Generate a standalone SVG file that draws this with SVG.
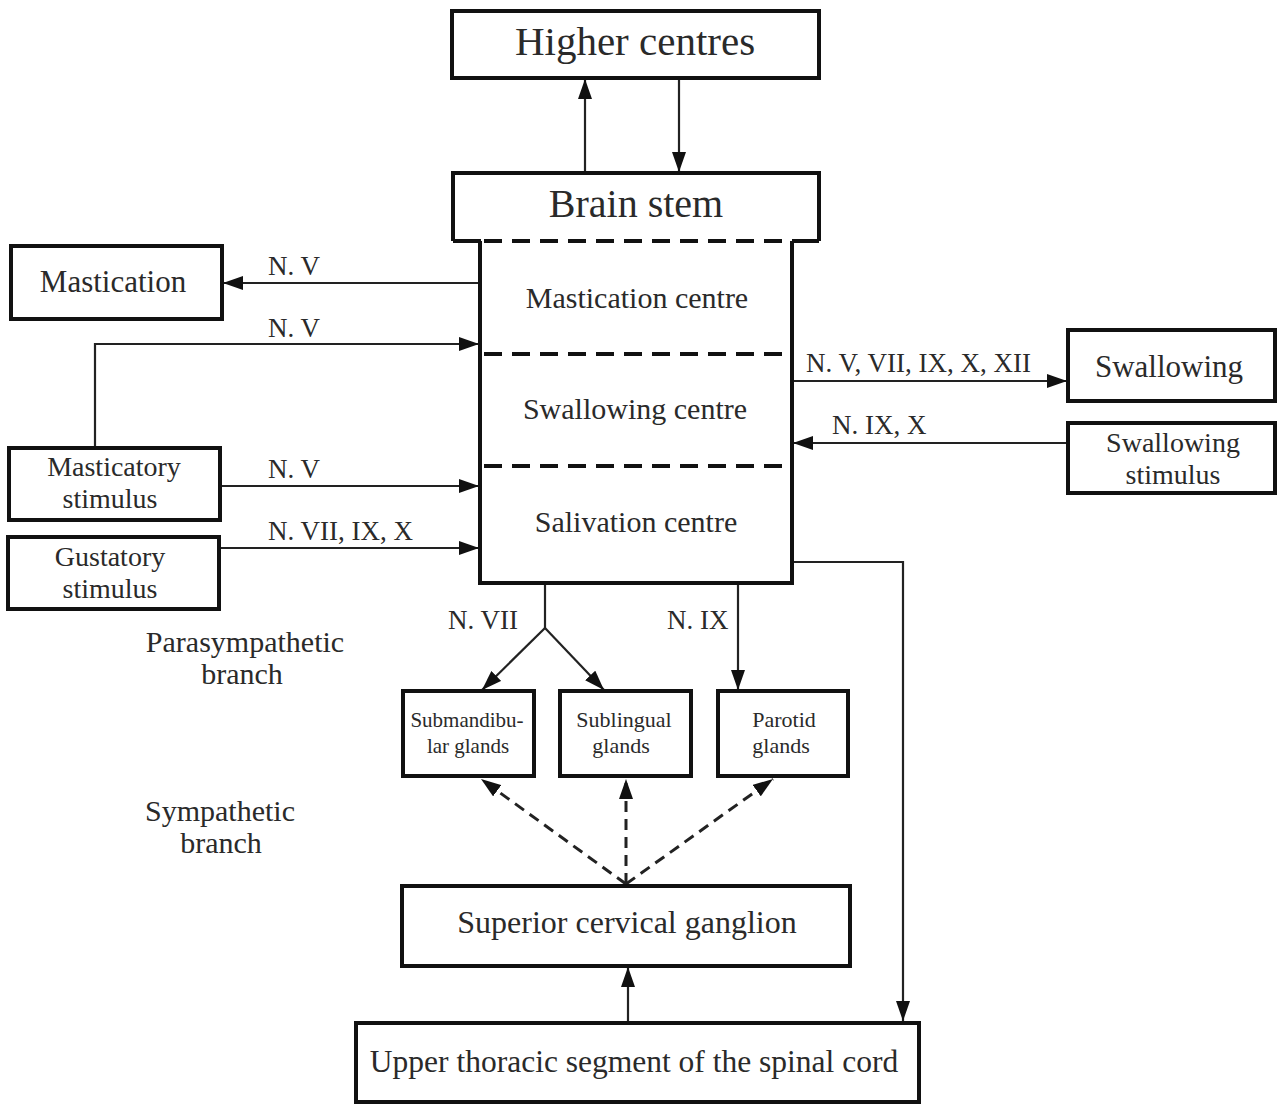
<svg xmlns="http://www.w3.org/2000/svg" width="1277" height="1104" viewBox="0 0 1277 1104">
<style>
.box{fill:#fff;stroke:#111;stroke-width:4}
.t{font-family:"Liberation Serif","Times New Roman",serif;fill:#2a2a2a;text-anchor:middle}
.lbl{font-family:"Liberation Serif","Times New Roman",serif;fill:#2a2a2a;font-size:27px}
.c{fill:none;stroke:#222;stroke-width:2.2}
.d{fill:none;stroke:#222;stroke-width:3;stroke-dasharray:11 7}
.div{fill:none;stroke:#111;stroke-width:4;stroke-dasharray:18 10}
</style>
<defs>
<marker id="a" viewBox="0 0 20 14" refX="20" refY="7" markerWidth="20" markerHeight="14" markerUnits="userSpaceOnUse" orient="auto">
<path d="M0,0 L20,7 L0,14 z" fill="#111"/>
</marker>
</defs>
<rect width="1277" height="1104" fill="#fff"/>

<g id="connectors">
<line class="c" x1="585" y1="173" x2="585" y2="79" marker-end="url(#a)"/>
<line class="c" x1="679" y1="79" x2="679" y2="172" marker-end="url(#a)"/>
<line class="c" x1="480" y1="283" x2="223" y2="283" marker-end="url(#a)"/>
<path class="c" d="M95,448 V344 H479" marker-end="url(#a)"/>
<line class="c" x1="221" y1="486" x2="479" y2="486" marker-end="url(#a)"/>
<line class="c" x1="220" y1="548" x2="479" y2="548" marker-end="url(#a)"/>
<line class="c" x1="792" y1="381" x2="1067" y2="381" marker-end="url(#a)"/>
<line class="c" x1="1068" y1="443" x2="793" y2="443" marker-end="url(#a)"/>
<path class="c" d="M792,562 H903 V1021" marker-end="url(#a)"/>
<path class="c" d="M545,583 V628"/>
<line class="c" x1="545" y1="628" x2="482" y2="690" marker-end="url(#a)"/>
<line class="c" x1="545" y1="628" x2="604" y2="690" marker-end="url(#a)"/>
<line class="c" x1="738" y1="583" x2="738" y2="690" marker-end="url(#a)"/>
<line class="d" x1="626" y1="884" x2="481" y2="779" marker-end="url(#a)"/>
<line class="d" x1="626" y1="884" x2="626" y2="779" marker-end="url(#a)"/>
<line class="d" x1="626" y1="884" x2="773" y2="779" marker-end="url(#a)"/>
<line class="c" x1="628" y1="1022" x2="628" y2="967" marker-end="url(#a)"/>
<text class="lbl" x="268" y="275">N. V</text>
<text class="lbl" x="268" y="337">N. V</text>
<text class="lbl" x="268" y="478">N. V</text>
<text class="lbl" x="268" y="540">N. VII, IX, X</text>
<text class="lbl" x="806" y="372">N. V, VII, IX, X, XII</text>
<text class="lbl" x="832" y="434">N. IX, X</text>
<text class="lbl" x="448" y="629">N. VII</text>
<text class="lbl" x="667" y="629">N. IX</text>
</g>

<g id="higher-centres">
<rect class="box" x="452" y="11" width="367" height="67"/>
<text class="t" x="635" y="55" font-size="41">Higher centres</text>
</g>

<g id="brain-stem">
<path d="M453,241 V173 H819 V241 M453,241 H481 M792,241 H819" fill="none" stroke="#111" stroke-width="4"/>
<line class="div" x1="484" y1="241" x2="792" y2="241"/>
<text class="t" x="636" y="217" font-size="40">Brain stem</text>
</g>

<g id="centres">
<path d="M480,241 V583 H792 V241" fill="none" stroke="#111" stroke-width="4"/>
<line class="div" x1="484" y1="354" x2="792" y2="354"/>
<line class="div" x1="484" y1="466" x2="792" y2="466"/>
<text class="t" x="637" y="308" font-size="30">Mastication centre</text>
<text class="t" x="635" y="419" font-size="30">Swallowing centre</text>
<text class="t" x="636" y="532" font-size="30">Salivation centre</text>
</g>

<g id="mastication">
<rect class="box" x="11" y="246" width="211" height="73"/>
<text class="t" x="113" y="292" font-size="31">Mastication</text>
</g>

<g id="masticatory-stimulus">
<rect class="box" x="9" y="448" width="211" height="72"/>
<text class="t" x="114" y="476" font-size="28">Masticatory</text>
<text class="t" x="110" y="507.5" font-size="28">stimulus</text>
</g>

<g id="gustatory-stimulus">
<rect class="box" x="8" y="537" width="211" height="72"/>
<text class="t" x="110" y="566" font-size="28">Gustatory</text>
<text class="t" x="110" y="597.5" font-size="28">stimulus</text>
</g>

<g id="swallowing">
<rect class="box" x="1068" y="330" width="207" height="71"/>
<text class="t" x="1169" y="377" font-size="31">Swallowing</text>
</g>

<g id="swallowing-stimulus">
<rect class="box" x="1068" y="423" width="207" height="70"/>
<text class="t" x="1173" y="452" font-size="28">Swallowing</text>
<text class="t" x="1173" y="483.5" font-size="28">stimulus</text>
</g>

<g id="parasympathetic-label">
<text class="t" x="245" y="652" font-size="30">Parasympathetic</text>
<text class="t" x="242" y="684" font-size="30">branch</text>
</g>

<g id="sympathetic-label">
<text class="t" x="220" y="821" font-size="30">Sympathetic</text>
<text class="t" x="221" y="853" font-size="30">branch</text>
</g>

<g id="submandibular">
<rect class="box" x="403" y="691" width="131" height="85"/>
<text class="t" x="467" y="727" font-size="21">Submandibu-</text>
<text class="t" x="468" y="753" font-size="21">lar glands</text>
</g>

<g id="sublingual">
<rect class="box" x="560" y="691" width="131" height="85"/>
<text class="t" x="624" y="727" font-size="22">Sublingual</text>
<text class="t" x="621" y="753" font-size="22">glands</text>
</g>

<g id="parotid">
<rect class="box" x="718" y="691" width="130" height="85"/>
<text class="t" x="784" y="727" font-size="22">Parotid</text>
<text class="t" x="781" y="753" font-size="22">glands</text>
</g>

<g id="superior-cervical-ganglion">
<rect class="box" x="402" y="886" width="448" height="80"/>
<text class="t" x="627" y="933" font-size="32">Superior cervical ganglion</text>
</g>

<g id="upper-thoracic">
<rect class="box" x="356" y="1023" width="563" height="79"/>
<text class="t" x="634" y="1072" font-size="31.5">Upper thoracic segment of the spinal cord</text>
</g>
</svg>
